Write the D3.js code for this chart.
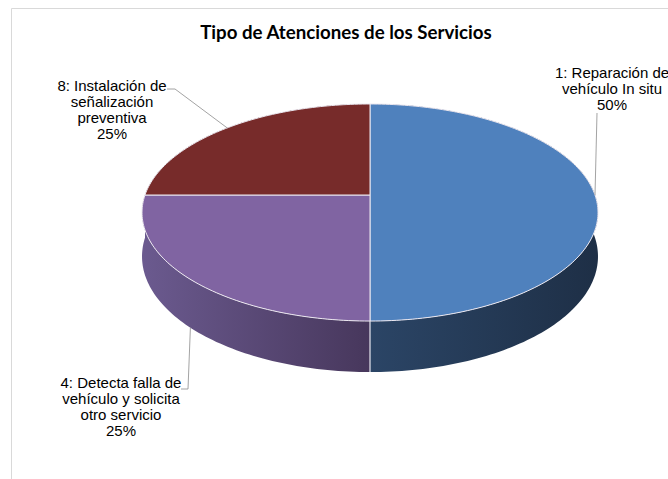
<!DOCTYPE html>
<html lang="es">
<head>
<meta charset="UTF-8">
<title>Tipo de Atenciones de los Servicios</title>
<script src="https://d3js.org/d3.v7.min.js"></script>
<style>
  body { margin: 0; background: #fff; }
  .lbl { font-family: "Liberation Sans Narrow", "Liberation Sans", Arial, sans-serif; font-size: 15px; fill: #000; }
  .title { font-family: Lato, "Open Sans", sans-serif; font-weight: bold; font-size: 18.7px; fill: #000; }
</style>
</head>
<body>
<svg id="chart" width="668" height="479"></svg>
<script>
// data
const categories = ["1: Reparación de vehículo In situ", "4: Detecta falla de vehículo y solicita otro servicio", "8: Instalación de señalización preventiva"];
const values = [50, 25, 25];
const labelLines = [
  ["1: Reparación de", "vehículo In situ"],
  ["4: Detecta falla de", "vehículo y solicita", "otro servicio"],
  ["8: Instalación de", "señalización", "preventiva"]
];
const topColors = ["#4f81bd", "#8064a2", "#772b2a"];
const sideColors = [["#2b4566", "#1e2f46"], ["#6b5a8f", "#47375c"], ["#5a2020", "#4a1a1a"]];

const svg = d3.select("#chart");

// chart area border
svg.append("path")
  .attr("d", "M11.5,479 V8.5 H668")
  .attr("fill", "none").attr("stroke", "#d9d9d9");

svg.append("text").attr("class", "title")
  .attr("x", 346).attr("y", 39).attr("text-anchor", "middle")
  .text("Tipo de Atenciones de los Servicios");

// perspective projection of the pie disc
const cx = 370, cy = 195, rx = 225, ry = 105.7, k = 0.1614, depth = 42.8;
function proj(a, h) {
  const u = Math.sin(a), v = -Math.cos(a);
  const s = 1 / (1 - k * v);
  return [cx + rx * u * s, cy + ry * v * s + h * depth * s];
}

const pie = d3.pie().sort(null).value(d => d);
const arcs = pie(values);
const total = d3.sum(values);

function rim(a0, a1, h) {
  const n = Math.max(2, Math.ceil((a1 - a0) / 0.02));
  return d3.range(n + 1).map(i => proj(a0 + (a1 - a0) * i / n, h));
}

const defs = svg.append("defs");
arcs.forEach((d, i) => {
  const pts = rim(d.startAngle, d.endAngle, 0);
  const xs = pts.map(p => p[0]);
  const g = defs.append("linearGradient")
    .attr("id", "side" + i)
    .attr("gradientUnits", "userSpaceOnUse")
    .attr("x1", d3.min(xs)).attr("x2", d3.max(xs))
    .attr("y1", 0).attr("y2", 0);
  g.append("stop").attr("offset", 0).attr("stop-color", sideColors[i][0]);
  g.append("stop").attr("offset", 1).attr("stop-color", sideColors[i][1]);
});

const line = d3.line();

// side walls, far ones first
const sideOrder = d3.range(arcs.length).sort((a, b) =>
  -Math.cos((arcs[a].startAngle + arcs[a].endAngle) / 2) - -Math.cos((arcs[b].startAngle + arcs[b].endAngle) / 2));
const sides = svg.append("g");
sideOrder.forEach(i => {
  const d = arcs[i];
  const pts = rim(d.startAngle, d.endAngle, 0).concat(rim(d.startAngle, d.endAngle, 1).reverse());
  sides.append("path").attr("d", line(pts) + "Z").attr("fill", `url(#side${i})`);
});

// seams between slices on the visible front wall
arcs.forEach(d => {
  const a = d.startAngle;
  if (-Math.cos(a) > 0.05) {
    sides.append("path").attr("d", line([proj(a, 0), proj(a, 1)]))
      .attr("stroke", "#e6e6ee").attr("stroke-width", 1.2).attr("fill", "none");
  }
});

// top faces
const tops = svg.append("g");
arcs.forEach((d, i) => {
  const pts = [[cx, cy]].concat(rim(d.startAngle, d.endAngle, 0));
  tops.append("path").attr("d", line(pts) + "Z")
    .attr("fill", topColors[i])
    .attr("stroke", "#ece8f0").attr("stroke-width", 1).attr("stroke-linejoin", "round");
});

// labels and leader lines
const fmt = d => Math.round(d.value / total * 100) + "%";
const labelPos = [
  { x: 612, y: 78, lead: [[597, 113], "mid0"] },
  { x: 121, y: 388, lead: [[181, 389], [188, 389], "mid1"] },
  { x: 112, y: 91, lead: [[167, 89], [175, 89], "mid0"] }
];
const lab = svg.append("g");
arcs.forEach((d, i) => {
  const p = labelPos[i];
  const t = lab.append("text").attr("class", "lbl").attr("text-anchor", "middle");
  labelLines[i].concat([fmt(d)]).forEach((s, j) => {
    t.append("tspan").attr("x", p.x).attr("y", p.y + j * 16).text(s);
  });
  const mid = (d.startAngle + d.endAngle) / 2;
  const pts = p.lead.map(q => q === "mid0" ? proj(mid, 0) : q === "mid1" ? proj(mid, 1) : q);
  lab.append("path").attr("d", line(pts))
    .attr("fill", "none").attr("stroke", "#8c8c8c").attr("stroke-width", 0.8);
});
</script>
</body>
</html>
